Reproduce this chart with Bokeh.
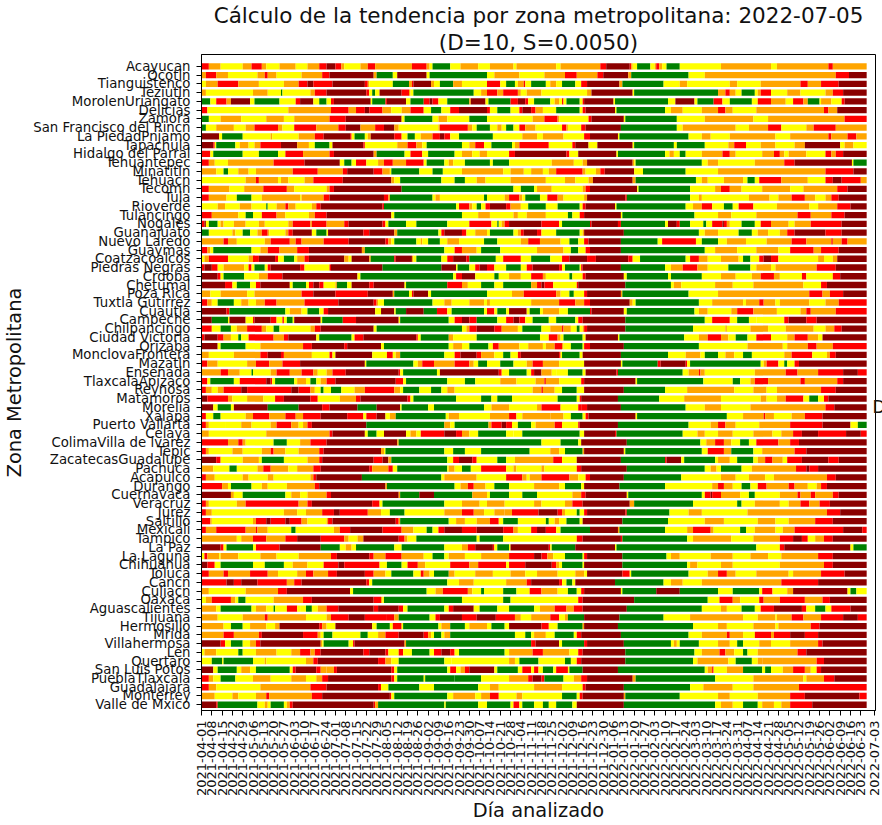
from math import pi
from bokeh.embed import file_html
from bokeh.models import ColumnDataSource, FixedTicker, LinearAxis, Range1d, Title
from bokeh.plotting import figure
from bokeh.resources import INLINE

TITULO_1 = "Cálculo de la tendencia por zona metropolitana: 2022-07-05"
TITULO_2 = "(D=10, S=0.0050)"
ZONAS = ["Acayucan", "Ocotln", "Tianguistenco", "Teziutln", "MorolenUriangato", "Delicias", "Zamora",
         "San Francisco del Rincn", "La PiedadPnjamo", "Tapachula", "Hidalgo del Parral", "Tehuantepec",
         "Minatitln", "Tehuacn", "Tecomn", "Tula", "Rioverde", "Tulancingo", "Nogales", "Guanajuato",
         "Nuevo Laredo", "Guaymas", "Coatzacoalcos", "Piedras Negras", "Crdoba", "Chetumal", "Poza Rica",
         "Tuxtla Gutirrez", "Cuautla", "Campeche", "Chilpancingo", "Ciudad Victoria", "Orizaba",
         "MonclovaFrontera", "Mazatln", "Ensenada", "TlaxcalaApizaco", "Reynosa", "Matamoros", "Morelia",
         "Xalapa", "Puerto Vallarta", "Celaya", "ColimaVilla de lvarez", "Tepic", "ZacatecasGuadalupe",
         "Pachuca", "Acapulco", "Durango", "Cuernavaca", "Veracruz", "Jurez", "Saltillo", "Mexicali",
         "Tampico", "La Paz", "La Laguna", "Chihuahua", "Toluca", "Cancn", "Culiacn", "Oaxaca",
         "Aguascalientes", "Tijuana", "Hermosillo", "Mrida", "Villahermosa", "Len", "Quertaro",
         "San Luis Potos", "PueblaTlaxcala", "Guadalajara", "Monterrey", "Valle de Mxico"]

FECHAS = ["2021-04-01", "2021-04-08", "2021-04-15", "2021-04-22", "2021-04-29", "2021-05-06", "2021-05-13",
          "2021-05-20", "2021-05-27", "2021-06-03", "2021-06-10", "2021-06-17", "2021-06-24", "2021-07-01",
          "2021-07-08", "2021-07-15", "2021-07-22", "2021-07-29", "2021-08-05", "2021-08-12", "2021-08-19",
          "2021-08-26", "2021-09-02", "2021-09-09", "2021-09-16", "2021-09-23", "2021-09-30", "2021-10-07",
          "2021-10-14", "2021-10-21", "2021-10-28", "2021-11-04", "2021-11-11", "2021-11-18", "2021-11-25",
          "2021-12-02", "2021-12-09", "2021-12-16", "2021-12-23", "2021-12-30", "2022-01-06", "2022-01-13",
          "2022-01-20", "2022-01-27", "2022-02-03", "2022-02-10", "2022-02-17", "2022-02-24", "2022-03-03",
          "2022-03-10", "2022-03-17", "2022-03-24", "2022-03-31", "2022-04-07", "2022-04-14", "2022-04-21",
          "2022-04-28", "2022-05-05", "2022-05-12", "2022-05-19", "2022-05-26", "2022-06-02", "2022-06-09",
          "2022-06-16", "2022-06-23", "2022-07-03"]
DIAS_TICK = [0, 7, 14, 21, 28, 35, 42, 49, 56, 63, 70, 77, 84, 91, 98, 105, 112, 119, 126, 133, 140, 147, 154,
             161, 168, 175, 182, 189, 196, 203, 210, 217, 224, 231, 238, 245, 252, 259, 266, 273, 280, 287, 294,
             301, 308, 315, 322, 329, 336, 343, 350, 357, 364, 371, 378, 385, 392, 399, 406, 413, 420, 427, 434,
             441, 448, 457]
COLORES = {"r": "red", "o": "orange", "y": "yellow", "g": "green", "d": "darkred"}

# Tendencia de cada zona: letra de color + día en que termina el tramo
z01 = "r5 o13 y28 o34 r41 o44 y53 o64 y72 o80 r85 d91 r95 o97 y108 o113 r118 o143 r153 o155 y157 g169 y176 o188 y196 o212 y214 o241 y244 o271 r275 d291 r292 o293 y296 g305 y308 o309 r311 o313 y316 g325 y353 o387 y391 o426 r429 o452"
z02 = "o3 r10 o18 y38 o43 r45 o51 y68 o82 r87 d117 o119 g130 y133 d153 y155 g194 y199 o216 y233 o247 r255 o269 r273 d290 o292 g331 y342 o431 r440 d452"
z03 = "y3 o11 r25 o39 y56 o66 r72 d76 r89 d111 r113 o114 y130 g141 o143 r144 d156 o158 y162 g171 o177 y194 r203 y207 g213 y215 o219 r220 y224 g234 y237 o241 y245 g254 y258 r262 d284 o286 g314 y325 o330 y359 o364 y380 o407 r412 o421 r433 d452"
z04 = "o3 y35 o45 y54 g55 y74 o77 r85 d112 r114 y116 g118 y121 d136 r141 o142 y144 g185 y190 o194 r201 o205 r215 o217 y221 o231 y262 o265 d293 y294 g351 o356 r359 o363 y367 g376 y378 o380 r387 y398 o407 y424 o429 r436 d452"
z05 = "g6 y10 r17 o20 d33 y36 g53 y64 r67 d76 y80 g85 y88 r90 d115 y116 g125 r126 d139 y142 g151 r155 d157 r161 y167 g182 o183 d193 y195 g210 r215 d220 r222 y226 g237 y240 o243 y245 r246 y248 g257 y259 r260 d280 y281 g317 y322 d335 y337 g348 r354 y359 g374 y378 r387 o397 y402 r409 o412 g420 y421 o428 y435 r437 d452"
z06 = "r4 y59 o88 r100 o105 r111 d114 r123 o129 y136 o142 r151 y156 g163 y169 r175 d194 r196 y201 g210 y216 r218 d224 r227 o232 y241 g257 y259 r261 d281 y282 g315 y319 o327 y340 o351 r356 o361 y377 o423 r426 o432 d452"
z07 = "g5 y13 o27 y44 o56 y63 o87 r98 d136 y138 g157 y161 o167 y182 g194 y225 o233 r242 o243 y263 r265 d287 y288 g323 y342 o375 y385 o437 r452"
z08 = "g3 y10 o22 y30 o36 r52 o55 y63 r78 o93 r98 d108 o118 r124 d131 o134 y161 o162 r181 o184 y187 g196 y201 o204 y207 g212 y216 r220 o227 y245 r248 o249 y258 r261 d285 g323 y327 o363 y372 o385 r394 y411 o416 r431 o452"
z09 = "d12 y14 g28 y47 o48 y66 o77 r83 d101 r102 y104 g111 y113 o115 d131 r136 y140 g145 y149 o157 r162 d165 r169 y175 g198 y218 o228 y232 o246 y260 r264 d283 y284 g331 y340 o346 y359 o390 y400 o426 r428 o439 r445 o452"
z10 = "d8 r9 y10 g23 y26 o32 y36 o40 r54 d65 o73 y77 g87 y89 d110 r111 y133 o140 r146 o150 y153 g177 y182 o186 r192 y197 g211 y213 o216 r236 y252 r254 d263 y269 d293 y294 g321 y323 g342 y358 o362 r370 y380 o390 y403 o410 d434 y437 o443 y452"
z11 = "r6 y8 g28 y39 g52 y57 r69 o87 r90 d117 o119 g138 y142 r150 y154 g172 y177 o184 y189 o194 y209 r213 d248 r250 y256 d282 y283 g315 y318 o321 y325 g329 y340 o354 r359 o363 y381 o389 r393 o396 y399 o411 y424 r428 o431 r436 d452"
z12 = "r5 o9 y18 o49 r70 d94 y97 g102 y105 r112 y120 o124 r130 o139 r151 y153 g165 y168 o171 y179 g196 y198 g209 y238 o253 y259 o262 d293 o294 y295 g340 y344 o351 y376 o396 r403 d442 y443 g452"
z13 = "o10 y15 g18 y25 o32 y37 o62 r79 o96 r99 d117 r123 o128 y129 g148 y157 g164 y177 o205 y210 o219 y224 o232 y236 o241 r259 o261 y268 o271 r274 d294 y300 g329 y351 o424 r443 d452"
z14 = "y30 o37 r39 o52 y54 o59 y70 o76 r96 d129 o131 y135 g163 y172 g179 y187 o193 y210 o234 y247 o254 y263 o266 d293 o295 g336 y340 o344 y355 o368 y371 g376 y379 r394 o412 y424 r429 d435 r448 o452"
z15 = "r5 o19 y29 o42 r58 o63 y85 o87 r90 d136 g212 y217 g226 y228 o238 y259 o261 r264 d296 y297 g332 y349 o353 r359 o367 y381 o400 y409 o432 r439 d452"
z16 = "r5 o17 y24 g34 y41 o67 y68 o83 r87 d124 r127 o128 g157 y159 o162 y192 g194 y206 o209 r216 o218 y220 g230 y235 r242 o246 y260 o262 d288 r289 g332 y338 o340 y372 o386 y392 o401 r410 o417 y424 o428 r433 d452"
z17 = "y11 o16 y26 o34 y44 g45 y51 o57 r59 o64 y75 o78 r81 d123 r124 g173 y175 r182 o184 y187 g190 y193 r196 d207 r210 o217 y222 g234 y242 g257 y259 r261 d281 y282 g329 y334 o340 r347 y355 g361 y365 r375 y391 o413 y419 o432 r441 d452"
z18 = "r7 o25 y30 g35 y41 r51 o57 y73 o77 r85 d129 y131 g177 y188 o196 y212 o215 y221 o234 y249 g252 y257 r260 d285 y286 g335 y351 o360 y377 o405 r414 o428 r437 d452"
z19 = "r2 d3 y5 g11 y13 o15 y22 o30 y39 o43 y59 o62 r74 o75 r85 o97 r100 d123 r125 y127 g139 y146 g167 y182 r197 y201 g202 y204 o206 r209 d231 r243 y245 g264 r265 d283 r285 g315 y317 d323 r325 g332 y341 g343 y347 r354 d355 r357 o359 y367 g376 y380 r387 o399 y403 o414 r435 d452"
z20 = "g5 y21 o23 y28 g33 y38 o41 r45 o46 y57 o59 r62 d75 y78 g85 y86 d110 r114 d131 o133 g161 y163 r165 d177 r180 y186 o194 y196 g212 y215 o217 r219 d228 r231 y241 g257 y259 o260 d287 g338 y342 o351 y365 g374 y378 o385 y393 o398 r403 d424 r435 d452"
z21 = "o15 r18 o24 y43 o47 r60 o64 r68 o83 r100 d125 r127 o129 y131 g146 y149 o150 y154 g162 y167 o175 y192 g201 y217 o222 r230 o244 y250 g256 y260 r263 d285 g310 y313 r336 y340 g351 y357 o370 y384 o401 r411 o428 r429 o435 r439 o452"
z22 = "r4 o6 y8 g34 y40 o45 r53 o65 r73 d109 o111 g165 y172 r177 o187 y190 g203 y228 o246 y251 g256 y261 r264 d285 g342 y349 o364 y377 o392 y400 r416 o421 r433 d452"
z23 = "y2 o5 r18 y32 o35 r39 d50 r52 y56 g63 y65 o70 r73 d97 o100 y102 d114 o115 g131 r132 d143 o144 y146 g163 y167 r171 d180 r182 g200 y205 r217 y224 g237 y245 r250 d262 r268 d290 r293 y298 g329 y332 r338 o344 y353 o365 y368 g373 y379 r382 d387 r392 y419 o423 y429 o432 d452"
z24 = "r2 d7 r11 y15 o29 y32 r34 y36 g43 y45 r47 d67 r70 y87 r88 d123 g163 d173 y174 g182 y186 r189 d194 r199 y207 g217 y221 r225 d243 r245 y247 g257 y258 r259 d285 g315 y319 o327 r337 o344 y358 g373 y377 o387 y390 o418 r431 d452"
z25 = "d11 r13 y15 g29 y39 o45 r55 d106 y108 g171 y173 r177 d186 y199 g202 y209 o217 y224 r232 o234 y250 g252 y259 r261 d287 y289 g317 y319 g340 y353 o363 y374 o380 r389 o393 y408 r411 y429 r434 d452"
z26 = "d16 r21 y24 g33 y37 r40 d60 y62 g71 y73 r76 d80 r83 y91 o92 g99 y102 d114 r117 d138 y139 g167 r177 o181 y190 g199 y205 g224 o228 r231 d233 r239 y255 r256 d288 g319 y321 o326 y349 o361 y375 o409 y421 r425 d452"
z27 = "o6 y13 o31 y36 o68 r76 d91 r113 d130 o131 g141 y143 r144 d154 y156 g194 y211 o219 r241 o244 y250 g253 y260 r262 d285 o286 g331 y351 o413 r422 o427 r436 d452"
z28 = "r4 o7 y11 g22 y27 o32 y37 o43 r51 o70 r93 d117 r119 o120 y124 g157 y165 o170 y182 o192 y194 o196 y224 o243 r254 o260 r264 d291 o293 y295 g338 y347 o368 y370 o379 r382 o390 y393 o413 y424 o433 r452"
z29 = "d17 r19 g57 y60 o68 y72 g80 y83 r86 d118 y122 d131 y132 g139 d151 g160 r167 y170 g192 y194 r199 y201 g207 y209 d221 y223 g230 y232 o243 y249 g264 r265 d287 y289 g335 y338 o344 y360 o364 r375 o391 y407 o411 r414 o431 r452"
z30 = "d7 g18 y19 d30 y35 r36 d47 r51 y55 r56 y58 g62 y63 d81 y82 g96 r105 d134 y135 g168 y172 r177 d182 r187 g201 y207 r212 d216 r220 y225 g236 y241 g254 y256 r259 d288 g342 y347 r359 y364 g372 y377 y396 r399 d411 r418 d452"
z31 = "r7 y13 g20 y24 o31 r41 o44 y49 g53 y74 o77 r81 d117 y119 g177 y180 o182 r187 d199 r204 o215 y218 g231 y237 o245 r246 o251 y255 g257 y259 o260 r262 d288 g334 y356 o357 y373 o385 y397 o416 y424 o430 r435 d452"
z32 = "r2 d11 r15 o20 y25 g27 y32 r49 o56 r59 d78 y80 g102 y104 r110 d146 r147 y149 g168 o171 y187 g230 y236 r242 o244 y246 g259 y261 d283 y284 g328 y338 o344 r353 o358 y363 g371 y377 r387 y398 o403 r412 o419 y422 d452"
z33 = "d11 y13 g30 y40 o69 r75 d97 r99 d122 y124 g168 y171 o177 y182 g195 y198 r202 o216 y222 o232 y234 o240 r245 o246 y251 g259 y260 r264 d287 g338 y371 o395 y398 o412 r418 o429 r452"
z34 = "o5 y22 o40 r45 d54 r56 o75 y87 r89 y91 d116 y126 r130 y132 o135 g165 y172 r176 d187 r190 o199 y205 g210 y215 r217 d243 r244 y245 g257 y259 d285 g317 y329 o339 y342 g351 y356 o362 y368 g374 y396 o401 r415 y425 o427 r431 d452"
z35 = "r4 o11 y31 o37 r46 o55 r67 d111 y112 g144 y147 o150 r158 o172 r182 o185 y188 g194 y203 g212 y221 o225 r232 o243 y260 d285 y286 g310 r312 d329 r330 y332 g380 y382 o384 r392 y396 g398 y403 r406 d452"
z36 = "o13 r18 o26 y34 g35 y47 o51 r60 o68 r76 o79 y85 o89 r98 d134 r135 y137 g160 y162 d202 r204 y209 g221 y224 r226 d231 o238 y241 y249 g259 y261 d282 r283 g327 y331 o338 r339 o342 y376 o397 r405 o419 r436 d446 r452"
z37 = "r4 y6 g22 y26 r44 d47 r48 y50 g63 y65 o71 y74 g78 y81 o85 r91 d132 r137 y139 g167 y179 g186 y203 o214 y227 o233 r234 o243 y258 r260 d295 y296 g341 y361 g366 y373 o376 r385 o407 r410 o432 r436 d452"
z38 = "r3 o7 y11 o15 r27 d31 r61 d66 r74 o77 y81 g83 y88 g95 y104 o111 r131 o135 y137 g148 y156 g163 y167 o172 y225 o231 r232 o240 y245 g255 y260 d287 g315 y330 o362 y375 o384 y391 o421 r431 d452"
z39 = "d4 r18 o21 y31 o42 y50 r56 d74 r79 y94 o105 r108 d140 r142 y144 g173 y190 g197 y201 g211 y242 g255 y257 r258 d283 g311 y328 o353 y380 o384 y391 o397 r409 y413 g419 y423 r426 d452"
z40 = "d8 y11 g20 y22 d45 g66 d82 r87 d106 g119 d135 y136 g154 y158 g192 y197 o209 y228 o231 r244 y256 r258 r262 d285 g329 y342 o353 y373 o424 r430 d452"
z41 = "r3 y8 g13 y30 o35 r46 o57 r64 o69 r81 d99 r110 y112 r119 d125 y128 o132 g166 y168 o175 y196 o209 r214 y218 o237 o246 y251 g259 y261 r263 d295 y296 g357 y368 o382 r383 o389 y401 o410 r422 d452"
z42 = "r3 o5 y16 y27 o34 y47 o51 r61 o66 y69 o72 r75 d112 g165 o169 y172 g195 o197 r204 d207 r211 y215 g224 y227 o240 r245 y256 r257 d283 g331 y346 o351 r356 o363 y379 o400 r422 d441 y446 g452"
z43 = "o5 y44 o87 r89 d111 y113 g119 y124 d139 y142 o146 y149 r165 d173 r177 o182 y188 g207 y212 y218 g257 y260 d281 r282 g327 y337 o342 y351 o361 y375 o388 y394 o402 r408 d419 r438 d448 r452"
z44 = "r18 o25 r28 o30 y49 g58 y67 o74 r85 d133 o134 g231 y244 g256 y258 d289 g339 y343 o349 r355 o360 y366 g372 y377 r392 o400 r406 d452"
z45 = "r3 o5 y21 o28 y41 o47 r49 o57 y66 o80 r83 d122 o124 y125 g165 y171 g179 y190 g223 y237 o243 y247 g259 o260 d287 y288 g340 y344 r355 o360 g375 y381 o403 r411 d452"
z46 = "d10 r13 y28 o39 y41 g56 y72 o80 r82 d117 r123 d127 o129 g167 y171 r175 d184 r187 y201 g207 y213 o239 r245 y255 d285 g315 r316 d326 y328 g349 y351 o359 y364 g375 y378 o383 r388 o395 y398 r408 d426 r433 d452"
z47 = "o8 y19 g24 y38 o42 r47 o59 y65 o76 r81 d114 r116 o127 r130 y133 g167 y168 o172 y177 g183 y190 r207 y212 o214 y231 o233 y255 r258 d289 g342 y346 o350 y353 g367 y374 o404 r411 d413 r419 d452"
z48 = "r3 o9 y28 o32 y45 o49 y74 o76 r78 d109 g163 y165 o187 y207 r218 o221 y223 o231 r250 o256 y261 r264 d287 g326 y353 o363 y372 o383 y389 o425 r431 d452"
z49 = "r14 o18 y20 g34 y41 o45 y58 o77 r80 d125 o126 g172 y176 o181 r185 o193 y199 g209 y226 o243 y247 g258 y260 d284 g315 y347 o351 r355 o361 y367 g373 y378 r384 o399 r403 o412 y418 o421 r425 d452"
z50 = "d20 o22 y28 g57 y61 o67 y72 o85 r88 d134 o135 g148 d158 g184 o194 y196 g209 y218 g228 y252 o258 r261 d289 y290 g340 y342 r346 d347 r353 o366 y372 g376 y393 o405 r407 o414 r417 o429 r433 d452"
z51 = "r3 o5 y24 o30 r66 o72 r75 d116 r121 y123 g165 y177 o189 y194 o206 y226 o231 y247 o252 r259 d291 o294 g334 y364 g367 y376 o393 y399 o407 r413 o420 r427 d452"
z52 = "r3 o7 y56 o65 y71 o82 r90 d94 r113 o122 y128 g138 y165 o177 r185 o192 y199 o206 o211 r229 d242 r245 o247 y255 g257 y260 r262 d288 r289 g318 y331 o340 y371 o425 r434 d452"
z53 = "r6 o7 y35 o37 r44 d47 r57 d60 r68 o72 y85 o86 r89 d132 r134 o135 g168 y173 o179 y187 o196 r202 y205 g215 y234 g236 y240 o243 y248 g257 y259 d286 g317 y342 o355 y378 o390 y399 o417 r429 d452"
z54 = "r3 o10 r30 o37 r38 o45 y61 g64 y90 o94 r101 d123 r136 o144 y153 g157 y161 r165 d177 r187 d205 r212 o215 y224 r228 d234 r241 y244 g264 d283 o284 g315 y330 o334 r346 o348 y366 g370 y376 o390 y395 o403 r436 d449 r452"
z55 = "o24 y27 o35 r44 o57 r65 d81 r97 o100 y106 o110 d134 r138 o140 y146 g187 y189 g205 y255 r259 d285 r286 g330 y334 o360 y375 o393 r402 d408 r412 y417 o423 r429 d452"
z56 = "d13 r15 y17 g35 y37 r53 d81 g94 y98 o102 y105 g131 y136 g165 y177 o181 r186 d198 r199 y201 g209 y210 d236 r237 y238 g254 d281 y282 g377 y393 r396 d441 y443 g452"
z57 = "y2 r4 o12 y13 o25 y40 o51 y66 o88 r92 d114 r117 o125 r136 o151 y157 g165 y168 o179 y190 o209 r226 d231 r235 o239 y247 g259 y260 r262 d286 g316 y319 o325 y346 o361 y373 o385 y394 o419 r429 d452"
z58 = "d4 r9 y13 g35 y43 g56 y62 o72 y83 r93 d97 r121 y126 g136 y140 r147 o152 y169 r182 o188 r207 y209 r220 d238 r241 o243 y245 g259 y260 d286 g330 y332 o337 y353 o361 y393 o423 r429 d452"
z59 = "r5 o15 r18 o33 r45 o52 y65 o71 r76 o86 r92 d111 r117 o125 y129 g144 y149 r151 o155 y158 g168 o172 y186 o198 y210 o220 y228 o242 y254 o260 y262 d286 r291 y292 g331 y344 o351 r357 o363 y377 o399 y402 o421 r437 d452"
z60 = "r17 d22 r27 d38 r58 o63 r68 d112 r114 y116 g167 y175 o185 y207 o221 r224 d243 r245 y248 g252 y254 d281 g314 y319 o327 y340 o394 r419 d452"
z61 = "o5 y30 o52 r58 d101 y103 g153 y159 o164 r181 o184 y190 g192 y205 g214 y223 r231 o242 y249 g255 y258 r260 d285 y286 g309 d325 g351 y361 g379 y381 r388 y398 o402 d439 y441 g445 y452"
z62 = "y3 o7 r20 o23 y25 g30 y49 o69 r75 d117 r122 o123 y124 g177 y205 g210 y256 r259 d294 g344 y352 r361 o366 y379 r382 o393 r410 o422 r427 d452"
z63 = "o10 y13 g34 y37 o44 y49 g50 y58 r65 y67 y71 g75 y79 o85 r93 d117 r120 d134 r137 y140 g165 y168 r171 d185 y189 g201 y209 g226 y230 o240 r248 o253 r259 d289 g340 y353 o357 y367 g376 y380 r389 d408 r411 y417 g424 y428 r441 d452"
z64 = "o11 y28 o43 r45 o71 y85 o88 r100 d111 r126 r131 o134 g155 y159 r162 d177 r187 d200 r213 o217 y224 o237 r243 y247 o249 g260 d284 g314 y332 o368 y378 o390 y391 o401 r409 o421 r436 d446 r452"
z65 = "o15 y20 g28 y33 o44 y50 o53 d80 r82 o85 y91 d116 y119 g128 y130 r136 y137 g161 y163 o169 g179 y182 o194 y197 g206 y209 d231 r236 y242 g259 o260 d283 g334 y351 o357 y375 o390 y392 o414 r420 d452"
z66 = "o15 r22 o39 r41 d69 r79 o81 y83 g89 y108 g113 y120 o125 r134 d151 r154 o156 y158 g163 y165 o169 g213 y220 g224 y226 o234 y240 g253 y255 r258 d285 g331 y340 o357 r359 o368 y376 r387 o389 r400 d410 r419 d452"
z67 = "d13 r16 y20 g28 y33 o37 r40 d81 o82 y83 g100 y103 r104 d138 o139 g224 r227 d243 y245 g260 r262 d287 g319 y321 o323 y325 g338 y351 o359 y364 g368 y379 o387 y400 o419 r422 d452"
z68 = "y2 o10 y25 g28 y37 o51 y61 o67 r74 o77 r81 d110 r114 d125 r127 y134 r137 y143 g155 y158 r163 d169 r172 y175 g206 y209 o225 r232 o250 y256 r259 d288 g335 y340 o352 r356 o362 y368 g371 y378 o405 r411 d452"
z69 = "y7 g14 y15 g35 y43 o44 y71 o76 r79 d120 r125 o129 y134 g165 y170 y209 o213 y216 g229 y247 g251 y255 r258 d288 g334 y337 o358 y363 g374 y378 o381 o418 r423 d452"
z70 = "d8 y11 g24 y27 o33 y37 g60 y62 r64 d78 r81 o85 o90 r92 d129 r131 y133 g167 y169 r173 y176 o179 r182 d199 y201 g215 y218 r224 y226 r229 y232 g239 y241 r249 y250 g259 d283 g342 y344 o347 r348 y357 o368 g381 y383 g387 y395 o402 r410 o414 y418 r421 d452"
z71 = "r5 o8 y13 g23 y35 o47 y61 o71 y78 o82 r86 d129 r131 y133 g151 y152 g172 g190 y209 o222 r225 d231 r233 g246 y253 o258 r262 d293 o295 g349 y375 o409 y411 o423 r430 d452"
z72 = "r5 o10 y40 o74 r85 d120 r122 y127 g148 y158 g188 y196 o202 y226 o245 y259 r261 d287 g332 y341 o361 y375 o406 r452"
z73 = "o9 y21 o25 y37 o44 r46 o75 r82 d128 r129 y131 g167 y171 o186 y190 o196 r202 y214 o218 y245 g255 y257 r259 d287 o288 g325 y351 o359 y378 o400 r410 d447 r452"
z74 = "d10 r11 g38 y43 o45 y47 g56 y58 o60 r62 d117 r118 o120 g165 y166 g188 y194 g210 y212 r216 y218 g226 y232 g236 y241 g252 y255 d287 g349 y353 o361 y368 g378 y381 o389 y394 o400 r415 d452"

FILAS = [z01, z02, z03, z04, z05, z06, z07, z08, z09, z10, z11, z12, z13, z14, z15, z16, z17, z18, z19, z20,
         z21, z22, z23, z24, z25, z26, z27, z28, z29, z30, z31, z32, z33, z34, z35, z36, z37, z38, z39, z40,
         z41, z42, z43, z44, z45, z46, z47, z48, z49, z50, z51, z52, z53, z54, z55, z56, z57, z58, z59, z60,
         z61, z62, z63, z64, z65, z66, z67, z68, z69, z70, z71, z72, z73, z74]

datos = {"y": [], "left": [], "right": [], "color": []}
n = len(ZONAS)
for i, fila in enumerate(FILAS):
    prev = 0
    for token in fila.split():
        fin = int(token[1:])
        if fin > prev:
            datos["y"].append(n - 1 - i)
            datos["left"].append(prev)
            datos["right"].append(fin)
            datos["color"].append(COLORES[token[0]])
            prev = fin

p = figure(frame_width=674, frame_height=656, output_backend="svg", toolbar_location=None,
           x_range=Range1d(0, 458), y_range=Range1d(-0.66, 74.36),
           min_border_left=0, min_border_right=0, min_border_top=0, min_border_bottom=0,
           background_fill_color="white", border_fill_color="white")
p.hbar(y="y", left="left", right="right", height=0.72, color="color", line_color=None,
       source=ColumnDataSource(datos))

# Título en dos líneas centradas sobre el marco
for texto in (TITULO_2, TITULO_1):
    t = Title(text=texto, align="center", text_font="DejaVu Sans", text_font_size="21.5px",
              text_font_style="normal", text_color="#111111", text_line_height=0.95, standoff=0)
    p.add_layout(t, "above")

p.grid.visible = False
p.outline_line_color = "black"
p.outline_line_width = 1

p.xaxis.ticker = FixedTicker(ticks=DIAS_TICK)
p.xaxis.major_label_overrides = dict(zip(DIAS_TICK, FECHAS))
p.xaxis.major_label_orientation = pi / 2
p.xaxis.axis_label = "Día analizado"
p.yaxis.ticker = FixedTicker(ticks=list(range(n)))
p.yaxis.major_label_overrides = {n - 1 - i: z for i, z in enumerate(ZONAS)}
p.yaxis.axis_label = "Zona Metropolitana"

for ax, size, standoff, label_standoff in ((p.xaxis[0], "13px", 5, 0), (p.yaxis[0], "13.3px", 6, 4)):
    ax.major_label_text_font = "DejaVu Sans"
    ax.major_label_text_font_size = size
    ax.major_label_text_color = "#111111"
    ax.major_label_standoff = standoff
    ax.major_tick_out = 5
    ax.major_tick_in = 0
    ax.minor_tick_out = 0
    ax.minor_tick_in = 0
    ax.axis_line_color = "black"
    ax.major_tick_line_color = "black"
    ax.axis_label_text_font = "DejaVu Sans"
    ax.axis_label_text_font_size = "19.4px"
    ax.axis_label_text_font_style = "normal"
    ax.axis_label_text_color = "#111111"
    ax.axis_label_standoff = label_standoff

# La letra suelta del borde derecho, como único rótulo de un eje propio
eje_d = LinearAxis(ticker=FixedTicker(ticks=[34.1]), major_label_overrides={34.1: "D"},
                   axis_line_color=None, major_tick_line_color=None, minor_tick_line_color=None,
                   major_tick_in=0, major_tick_out=0, major_label_standoff=-3,
                   major_label_text_font="DejaVu Sans", major_label_text_font_size="17px",
                   major_label_text_color="#111111")
p.add_layout(eje_d, "right")

open("out.html", "w").write(file_html(p, INLINE))
